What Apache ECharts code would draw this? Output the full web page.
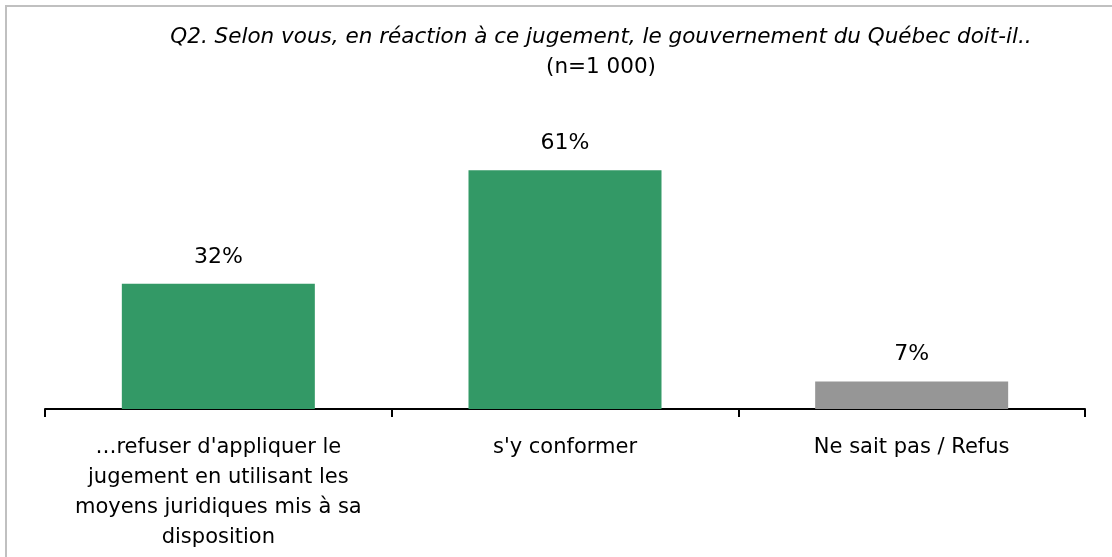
<!DOCTYPE html>
<html>
<head>
<meta charset="utf-8">
<script src="https://cdn.jsdelivr.net/npm/echarts@6/dist/echarts.min.js"></script>
<style>
html,body{margin:0;padding:0;background:#fff;}
#chart{width:1112px;height:557px;}
</style>
</head>
<body>
<div id="chart"></div>
<script>
const titleLine1 = "Q2. Selon vous, en réaction à ce jugement, le gouvernement du Québec doit-il..";
const titleLine2 = "(n=1 000)";
const categories = [
  "…refuser d'appliquer le\njugement en utilisant les\nmoyens juridiques mis à sa\ndisposition",
  "s'y conformer",
  "Ne sait pas / Refus"
];
const values = [32, 61, 7];
const barColors = ["#339966", "#339966", "#969696"];

const FONT = "'DejaVu Sans', sans-serif";
const chart = echarts.init(document.getElementById('chart'), null, {renderer: 'canvas'});
chart.setOption({
  animation: false,
  backgroundColor: '#ffffff',
  graphic: [
    {type: 'rect', shape: {x: 6, y: 6, width: 1300, height: 700}, style: {fill: 'none', stroke: '#c0c0c0', lineWidth: 2}, z: 0},
    {type: 'text', x: 601, y: 37, style: {text: titleLine1, font: 'italic 21.5px ' + FONT, fill: '#000', textAlign: 'center', textVerticalAlign: 'middle'}},
    {type: 'text', x: 601, y: 67, style: {text: titleLine2, font: '21.5px ' + FONT, fill: '#000', textAlign: 'center', textVerticalAlign: 'middle'}}
  ],
  grid: {left: 45, right: 27, top: 96, bottom: 148, containLabel: false},
  xAxis: {
    type: 'category',
    data: categories,
    axisLine: {lineStyle: {color: '#000', width: 2}},
    axisTick: {show: true, length: 8, inside: false, lineStyle: {color: '#000', width: 2}},
    axisLabel: {color: '#000', fontSize: 21, fontFamily: FONT, lineHeight: 30, margin: 24, interval: 0}
  },
  yAxis: {type: 'value', min: 0, max: 80, show: false, splitLine: {show: false}},
  series: [{
    type: 'bar',
    data: values.map((v, i) => ({value: v, itemStyle: {color: barColors[i]}})),
    barWidth: 193,
    label: {show: true, position: 'top', distance: 16, formatter: '{c}%', color: '#000', fontSize: 22, fontFamily: FONT}
  }]
});
</script>
</body>
</html>
